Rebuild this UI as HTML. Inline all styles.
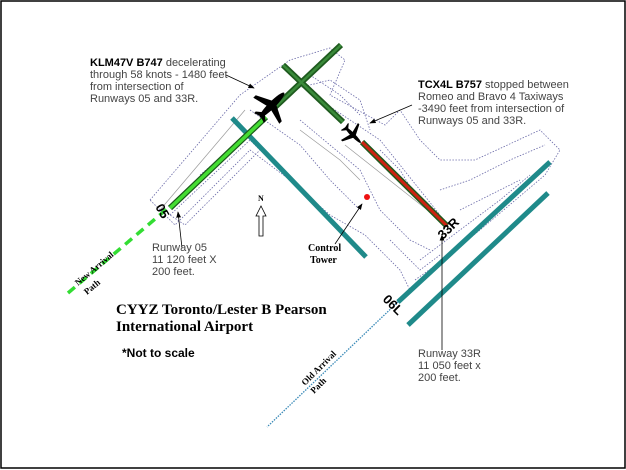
<!DOCTYPE html>
<html><head><meta charset="utf-8"><style>
body{margin:0;background:#fff}
svg{display:block}
.s{font-family:"Liberation Sans",sans-serif;font-size:11px;fill:#444}
.b{font-weight:bold;fill:#000}
.sf{font-family:"Liberation Serif",serif;font-weight:bold;fill:#000}
</style></head><body>
<svg width="626" height="470" viewBox="0 0 626 470" xmlns="http://www.w3.org/2000/svg">
<rect x="1" y="1" width="624" height="467" fill="#fff" stroke="#000" stroke-width="1.5"/>
<g fill="none" stroke="#6a6aa8" stroke-width="0.8" stroke-dasharray="1.5,1.5">
<path d="M150 200 L240 95 L290 60 L330 48 L345 60 L330 95 L385 125 L400 110 L420 140 L440 160 L475 160 L540 130 L560 150 L545 175 L480 230 L430 270 L410 290 L400 270 L385 255 L365 235 L330 215 L290 180 L250 150 L175 225 Z"/>
<path d="M170 215 L250 140 L260 150 L185 225 Z"/>
<path d="M300 120 L360 170 L380 210 L410 240 L430 250"/>
<path d="M320 100 L380 140 L420 190 L440 215"/>
<path d="M250 110 L300 145 L330 180 L360 210"/>
<path d="M440 190 L470 180 L510 160 L545 145"/>
<path d="M420 260 L460 230 L500 200 L530 175"/>
<path d="M390 240 L420 270 L440 255"/>
<path d="M290 90 L330 80 L360 100 L370 130"/>
<path d="M310 75 L340 95 L360 115"/>
<path d="M380 150 L400 170 L415 195 L430 210"/>
<path d="M460 210 L490 195 L520 180"/>
<path d="M415 280 L450 255 L470 235"/>
<path d="M200 175 L230 150"/>
</g>
<g fill="none" stroke="#999" stroke-width="0.7">
<path d="M160 210 L245 110"/><path d="M345 145 L440 220"/><path d="M300 130 L340 160 L360 180"/>
</g>
<line x1="68" y1="293" x2="168" y2="208" stroke="#33dd33" stroke-width="3.5" stroke-dasharray="9,6"/>
<line x1="400" y1="300" x2="267" y2="427" stroke="#3a8ab8" stroke-width="1.3" stroke-dasharray="1.5,1.2"/>
<g stroke="#1f8a8a" stroke-width="5" stroke-linecap="butt">
<line x1="232" y1="118" x2="366" y2="257"/>
<line x1="398" y1="302" x2="550" y2="162"/>
<line x1="408" y1="325" x2="548" y2="193"/>
</g>
<g stroke="#1e5a1e" stroke-width="6"><line x1="272" y1="110" x2="341" y2="45"/><line x1="283" y1="65" x2="343" y2="122"/></g>
<g stroke="#3a8a3a" stroke-width="2.5"><line x1="272" y1="110" x2="341" y2="45"/><line x1="283" y1="65" x2="343" y2="122"/></g>
<line x1="170" y1="208" x2="266" y2="117" stroke="#1a5a1a" stroke-width="6"/>
<line x1="170" y1="208" x2="266" y2="117" stroke="#44dd33" stroke-width="3.5"/>
<line x1="362" y1="142" x2="447" y2="226" stroke="#1e5a1e" stroke-width="6"/>
<line x1="362" y1="142" x2="447" y2="226" stroke="#cc2211" stroke-width="3"/>
<g transform="translate(272,105) rotate(45) scale(1.15)" fill="#000">
<ellipse cx="0" cy="0" rx="3" ry="15"/><polygon points="0,-4 -16,4 -16,7 0,3 16,7 16,4"/><polygon points="0,9 -6,14 -6,16 0,14 6,16 6,14"/>
</g>
<g transform="translate(353,135) rotate(135)" fill="#000">
<ellipse cx="0" cy="0" rx="2" ry="11"/><polygon points="0,-3 -12,3 -12,5 0,2 12,5 12,3"/><polygon points="0,7 -5,11 -5,12 0,11 5,12 5,11"/>
</g>
<circle cx="367" cy="197" r="3" fill="#e11"/>
<defs><marker id="a" markerWidth="8" markerHeight="8" refX="7" refY="4" orient="auto"><path d="M0,1 L8,4 L0,7 Z" fill="#000"/></marker></defs>
<g stroke="#000" stroke-width="0.8" fill="none" marker-end="url(#a)">
<line x1="226" y1="75" x2="254" y2="88"/>
<line x1="412" y1="105" x2="370" y2="123"/>
<line x1="335" y1="244" x2="362" y2="204"/>
<line x1="182" y1="248" x2="178" y2="212"/>
<line x1="442" y1="350" x2="442" y2="235"/>
</g>
<path d="M259 236 L259 216 L256 216 L261 206 L266 216 L263 216 L263 236 Z" fill="#fff" stroke="#000" stroke-width="0.8"/>
<text x="258" y="201" class="sf" font-size="8">N</text>
<text transform="translate(155,207) rotate(60)" font-family="Liberation Sans,sans-serif" font-weight="bold" font-size="13">05</text>
<text transform="translate(443,240) rotate(-45)" font-family="Liberation Sans,sans-serif" font-weight="bold" font-size="13">33R</text>
<text transform="translate(382,300) rotate(45)" font-family="Liberation Sans,sans-serif" font-weight="bold" font-size="13">06L</text>
<text transform="translate(78,286) rotate(-40)" class="sf" font-size="9">New Arrival</text>
<text transform="translate(87,295) rotate(-40)" class="sf" font-size="9">Path</text>
<text transform="translate(305,386) rotate(-45)" class="sf" font-size="9">Old Arrival</text>
<text transform="translate(314,394) rotate(-45)" class="sf" font-size="9">Path</text>
<text class="s" x="90" y="66"><tspan class="b">KLM47V B747</tspan> decelerating</text>
<text class="s" x="90" y="78">through 58 knots - 1480 feet</text>
<text class="s" x="90" y="90">from intersection of</text>
<text class="s" x="90" y="102">Runways 05 and 33R.</text>
<text class="s" x="418" y="88"><tspan class="b">TCX4L B757</tspan> stopped between</text>
<text class="s" x="418" y="100">Romeo and Bravo 4 Taxiways</text>
<text class="s" x="418" y="112">-3490 feet from intersection of</text>
<text class="s" x="418" y="124">Runways 05 and 33R.</text>
<text class="s" x="152" y="251">Runway 05</text>
<text class="s" x="152" y="263">11 120 feet X</text>
<text class="s" x="152" y="275">200 feet.</text>
<text class="s" x="418" y="357">Runway 33R</text>
<text class="s" x="418" y="369">11 050 feet x</text>
<text class="s" x="418" y="381">200 feet.</text>
<text class="sf" x="308" y="251" font-size="10">Control</text>
<text class="sf" x="310" y="263" font-size="10">Tower</text>
<text class="sf" x="116" y="314" font-size="15">CYYZ Toronto/Lester B Pearson</text>
<text class="sf" x="116" y="331" font-size="15">International Airport</text>
<text x="122" y="357" font-family="Liberation Sans,sans-serif" font-weight="bold" font-size="12">*Not to scale</text>
</svg>
</body></html>
